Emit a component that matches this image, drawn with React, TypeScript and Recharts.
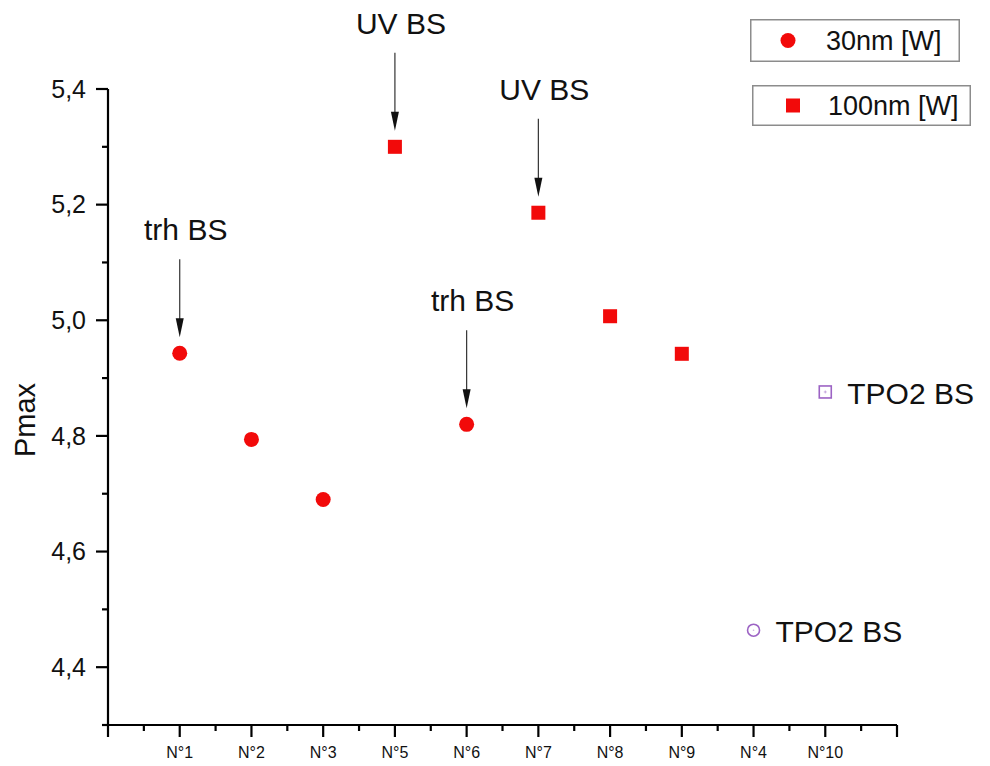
import React from 'react';
import { ScatterChart, Scatter, XAxis, YAxis, Legend } from 'recharts';

// ---------- data ----------
const categories = ['N°1', 'N°2', 'N°3', 'N°5', 'N°6', 'N°7', 'N°8', 'N°9', 'N°4', 'N°10'];

const series30Name = '30nm [W]';
const series30Cats = ['N°1', 'N°2', 'N°3', 'N°6'];
const series30Vals = [4.943, 4.794, 4.69, 4.82];

const series100Name = '100nm [W]';
const series100Cats = ['N°5', 'N°7', 'N°8', 'N°9'];
const series100Vals = [5.3, 5.186, 5.007, 4.942];

const tpoLabel = 'TPO2 BS';
const tpoCircleCats = ['N°4'];
const tpoCircleVals = [4.464];
const tpoSquareCats = ['N°10'];
const tpoSquareVals = [4.876];

const annotCats = ['N°1', 'N°5', 'N°6', 'N°7'];
const annotLabels = ['trh BS', 'UV BS', 'trh BS', 'UV BS'];

const legendOrder = [series30Name, series100Name];

const yTitle = 'Pmax';
const xTicks = [0, 0.5, 1, 1.5, 2, 2.5, 3, 3.5, 4, 4.5, 5, 5.5, 6, 6.5, 7, 7.5, 8, 8.5, 9, 9.5, 10, 10.5, 11];
const yTicks = [4.3, 4.4, 4.5, 4.6, 4.7, 4.8, 4.9, 5.0, 5.1, 5.2, 5.3, 5.4];
const xDomain = [0, 11];
const yDomain = [4.3, 5.4];

// ---------- derived ----------
const pos = (cat: string) => categories.indexOf(cat) + 1;
const data30 = series30Cats.map((c, i) => ({ x: pos(c), y: series30Vals[i] }));
const data100 = series100Cats.map((c, i) => ({ x: pos(c), y: series100Vals[i] }));
const dataTpoCircle = tpoCircleCats.map((c, i) => ({ x: pos(c), y: tpoCircleVals[i], label: tpoLabel }));
const dataTpoSquare = tpoSquareCats.map((c, i) => ({ x: pos(c), y: tpoSquareVals[i], label: tpoLabel }));
const annotData = annotCats.map((c, i) => {
  const j = series30Cats.indexOf(c);
  const y = j >= 0 ? series30Vals[j] : series100Vals[series100Cats.indexOf(c)];
  return { x: pos(c), y, label: annotLabels[i] };
});

// ---------- style ----------
const FONT = '"Liberation Sans", Arial, Helvetica, sans-serif';
const RED = '#f20a0a';
const PURPLE = '#9c63c4';
const TEXT = '#111';

const XTick = (props: any) => {
  const { x, y, payload } = props;
  const v = payload.value;
  const major = Math.abs(v - Math.round(v)) < 1e-6;
  const idx = Math.round(v);
  const label = major && idx >= 1 && idx <= categories.length ? categories[idx - 1] : '';
  return (
    <g>
      <line x1={x} x2={x} y1={y} y2={y + (major ? 12 : 6)} stroke="#000" strokeWidth={2.2} />
      {label && (
        <text x={x} y={y + 33} textAnchor="middle" fontSize={16} fontFamily={FONT} fill={TEXT}>
          {label}
        </text>
      )}
    </g>
  );
};

const YTick = (props: any) => {
  const { x, y, payload } = props;
  const v = payload.value;
  const major = Math.round(v * 10) % 2 === 0;
  return (
    <g>
      <line x1={x - (major ? 12 : 6)} x2={x} y1={y} y2={y} stroke="#000" strokeWidth={2.2} />
      {major && (
        <text x={x - 22} y={y} dy="0.35em" textAnchor="end" fontSize={25} fontFamily={FONT} fill={TEXT}>
          {v.toFixed(1).replace('.', ',')}
        </text>
      )}
    </g>
  );
};

const PmaxLabel = (props: any) => {
  const vb = props.viewBox || { x: 0, y: 0, width: 0, height: 0 };
  const cx = vb.x + 35;
  const cy = vb.y + vb.height / 2 + 13;
  return (
    <text x={cx} y={cy} transform={`rotate(-90 ${cx} ${cy})`} textAnchor="middle" fontSize={29} fontFamily={FONT} fill={TEXT}>
      {yTitle}
    </text>
  );
};

const RedCircle = (p: any) => <circle cx={p.cx} cy={p.cy} r={7.5} fill={RED} />;
const RedSquare = (p: any) => <rect x={p.cx - 7} y={p.cy - 7} width={14} height={14} fill={RED} />;

const TpoCircle = (p: any) => (
  <g>
    <circle cx={p.cx} cy={p.cy} r={6} fill="none" stroke={PURPLE} strokeWidth={1.6} />
    <circle cx={p.cx} cy={p.cy} r={0.8} fill={PURPLE} opacity={0.5} />
    <text x={p.cx + 22} y={p.cy + 12} fontSize={30} fontFamily={FONT} fill={TEXT}>
      {p.payload.label}
    </text>
  </g>
);

const TpoSquare = (p: any) => (
  <g>
    <rect x={p.cx - 6} y={p.cy - 6} width={12} height={12} fill="none" stroke={PURPLE} strokeWidth={1.6} />
    <line x1={p.cx - 1.5} x2={p.cx + 1.5} y1={p.cy} y2={p.cy} stroke={PURPLE} strokeWidth={0.8} opacity={0.6} />
    <line x1={p.cx} x2={p.cx} y1={p.cy - 1.5} y2={p.cy + 1.5} stroke={PURPLE} strokeWidth={0.8} opacity={0.6} />
    <text x={p.cx + 22} y={p.cy + 12} fontSize={30} fontFamily={FONT} fill={TEXT}>
      {p.payload.label}
    </text>
  </g>
);

const Annot = (p: any) => {
  const { cx, cy, payload } = p;
  return (
    <g>
      <line x1={cx} x2={cx} y1={cy - 94} y2={cy - 32} stroke="#333" strokeWidth={1.2} />
      <path d={`M${cx - 4},${cy - 35} L${cx + 4},${cy - 35} L${cx},${cy - 16} Z`} fill="#111" />
      <text x={cx + 6} y={cy - 113} textAnchor="middle" fontSize={30} fontFamily={FONT} fill={TEXT}>
        {payload.label}
      </text>
    </g>
  );
};

const legendBoxes = [
  { left: 750, top: 19, width: 210, height: 43 },
  { left: 752, top: 85, width: 219, height: 41 },
];

const LegendContent = (props: any) => {
  const items = (props.payload || []).filter((e: any) => legendOrder.indexOf(e.value) >= 0);
  items.sort((a: any, b: any) => legendOrder.indexOf(a.value) - legendOrder.indexOf(b.value));
  return (
    <div style={{ position: 'relative', width: 0, height: 0 }}>
      {items.map((e: any, i: number) => {
        const b = legendBoxes[i] || legendBoxes[0];
        const my = b.height / 2;
        return (
          <svg
            key={i}
            width={b.width}
            height={b.height}
            style={{ position: 'absolute', left: b.left, top: b.top, overflow: 'visible' }}
          >
            <rect x={0.75} y={0.75} width={b.width - 1.5} height={b.height - 1.5} fill="#fff" stroke="#8c8c8c" strokeWidth={1.5} />
            {e.type === 'circle' ? (
              <circle cx={38} cy={my} r={7.5} fill={e.color} />
            ) : (
              <rect x={34} y={my - 7} width={14} height={14} fill={e.color} />
            )}
            <text x={76} y={my} dy="0.36em" fontSize={27} fontFamily={FONT} fill={TEXT}>
              {e.value}
            </text>
          </svg>
        );
      })}
    </div>
  );
};

export default function App() {
  return (
    <div style={{ position: 'absolute', left: 0, top: 0, width: 990, height: 766, background: '#fff' }}>
      <ScatterChart width={990} height={766} margin={{ top: 89, right: 93, bottom: 0, left: 0 }}>
        <XAxis
          type="number"
          dataKey="x"
          domain={xDomain}
          ticks={xTicks}
          interval={0}
          height={41}
          tickSize={0}
          tickMargin={0}
          tickLine={false}
          stroke="#000"
          strokeWidth={2.2}
          axisLine={{ stroke: '#000', strokeWidth: 2.2 }}
          tick={<XTick />}
          allowDecimals
        />
        <YAxis
          type="number"
          dataKey="y"
          domain={yDomain}
          ticks={yTicks}
          interval={0}
          width={108}
          tickSize={0}
          tickMargin={0}
          tickLine={false}
          stroke="#000"
          strokeWidth={2.2}
          axisLine={{ stroke: '#000', strokeWidth: 2.2 }}
          tick={<YTick />}
          label={{ value: yTitle, content: PmaxLabel }}
        />
        <Legend
          layout="vertical"
          align="center"
          verticalAlign="middle"
          content={LegendContent}
          wrapperStyle={{ left: 0, top: 0, width: 0, height: 0 }}
        />
        <Scatter name={series30Name} data={data30} fill={RED} legendType="circle" shape={RedCircle} isAnimationActive={false} />
        <Scatter name={series100Name} data={data100} fill={RED} legendType="square" shape={RedSquare} isAnimationActive={false} />
        <Scatter name="tpoCircle" data={dataTpoCircle} fill={PURPLE} legendType="none" shape={TpoCircle} isAnimationActive={false} />
        <Scatter name="tpoSquare" data={dataTpoSquare} fill={PURPLE} legendType="none" shape={TpoSquare} isAnimationActive={false} />
        <Scatter name="annot" data={annotData} fill="#000" legendType="none" shape={Annot} isAnimationActive={false} />
      </ScatterChart>
    </div>
  );
}
